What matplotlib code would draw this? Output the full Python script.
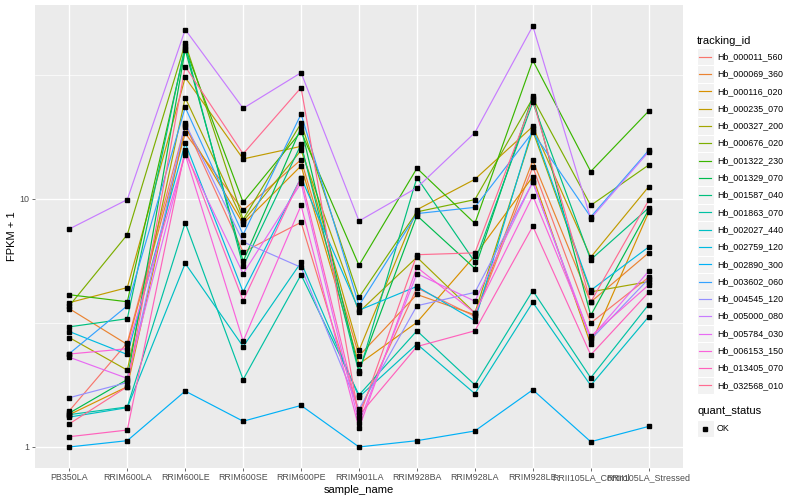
import numpy as np
import matplotlib.pyplot as plt
from matplotlib.patches import Rectangle
from matplotlib.ticker import NullFormatter

plt.rcParams['font.family'] = ['Liberation Sans', 'DejaVu Sans']

samples = ['PB350LA', 'RRIM600LA', 'RRIM600LE', 'RRIM600SE', 'RRIM600PE', 'RRIM901LA',
           'RRIM928BA', 'RRIM928LA', 'RRIM928LE', 'RRII105LA_Control', 'RRII105LA_Stressed']

tracking_ids = ['Hb_000011_560', 'Hb_000069_360', 'Hb_000116_020', 'Hb_000235_070',
                'Hb_000327_200', 'Hb_000676_020', 'Hb_001322_230', 'Hb_001329_070',
                'Hb_001587_040', 'Hb_001863_070', 'Hb_002027_440', 'Hb_002759_120',
                'Hb_002890_300', 'Hb_003602_060', 'Hb_004545_120', 'Hb_005000_080',
                'Hb_005784_030', 'Hb_006153_150', 'Hb_013405_070', 'Hb_032568_010']

# ggplot hue palette, 20 levels
colors = ['#F8766D', '#EA8331', '#D89000', '#C09B00', '#A3A500', '#7CAE00', '#39B600',
          '#00BB4E', '#00BF7D', '#00C1A3', '#00BFC4', '#00BAE0', '#00B0F6', '#35A2FF',
          '#9590FF', '#C77CFF', '#E76BF3', '#FA62DB', '#FF62BC', '#FF6C91']

# FPKM + 1, one list per gene, in sample order
hb_000011_560 = [1.40, 2.63, 19.9, 6.11, 8.05, 1.38, 4.38, 3.36, 13.46, 3.16, 4.83]
hb_000069_360 = [3.61, 2.59, 18.4, 9.0, 14.4, 2.33, 4.12, 3.41, 14.3, 3.84, 6.06]
hb_000116_020 = [1.35, 1.75, 19.5, 7.95, 13.6, 2.16, 3.18, 5.91, 12.3, 2.59, 8.83]
hb_000235_070 = [3.82, 4.39, 30.9, 14.5, 16.3, 2.45, 9.05, 12.0, 19.6, 5.82, 11.2]
hb_000327_200 = [2.76, 2.04, 25.6, 8.12, 15.7, 3.50, 5.82, 3.47, 18.8, 4.22, 4.64]
hb_000676_020 = [3.71, 7.18, 42.4, 8.26, 20.2, 4.01, 8.87, 9.94, 25.5, 9.42, 13.7]
hb_001322_230 = [4.11, 3.85, 40.6, 9.69, 18.7, 5.40, 13.3, 7.97, 36.2, 12.9, 22.6]
hb_001329_070 = [1.37, 1.87, 40.0, 5.60, 19.4, 2.03, 8.57, 5.24, 25.9, 3.39, 9.05]
hb_001587_040 = [3.05, 3.29, 41.5, 5.35, 16.6, 1.99, 12.2, 5.57, 24.5, 5.69, 9.20]
hb_001863_070 = [1.35, 1.45, 8.02, 1.87, 4.95, 1.62, 2.94, 1.78, 4.27, 1.90, 3.75]
hb_002027_440 = [1.32, 1.44, 5.50, 2.54, 5.55, 1.59, 2.60, 1.64, 3.83, 1.77, 3.35]
hb_002759_120 = [2.92, 2.36, 16.8, 4.22, 12.2, 3.56, 4.44, 3.23, 19.3, 4.28, 6.40]
hb_002890_300 = [1.00, 1.06, 1.68, 1.27, 1.47, 1.00, 1.06, 1.16, 1.70, 1.05, 1.21]
hb_003602_060 = [2.38, 3.71, 23.4, 7.18, 22.0, 3.72, 8.73, 9.25, 18.6, 8.46, 15.7]
hb_004545_120 = [1.58, 1.82, 20.2, 6.71, 5.30, 1.42, 3.71, 4.20, 11.7, 2.71, 4.76]
hb_005000_080 = [7.57, 9.94, 48.2, 23.2, 32.3, 8.15, 11.1, 18.5, 49.8, 8.33, 15.5]
hb_005784_030 = [2.30, 1.89, 15.3, 5.00, 11.6, 1.25, 5.00, 3.87, 11.7, 2.75, 5.11]
hb_006153_150 = [2.37, 2.49, 15.1, 2.67, 9.42, 1.19, 5.30, 3.47, 10.3, 2.79, 4.50]
hb_013405_070 = [1.10, 1.17, 15.8, 3.89, 12.2, 1.34, 2.54, 2.94, 7.76, 2.35, 4.20]
hb_032568_010 = [1.24, 1.75, 34.2, 15.2, 28.1, 1.31, 5.96, 6.06, 25.1, 3.84, 9.87]

series = [hb_000011_560, hb_000069_360, hb_000116_020, hb_000235_070, hb_000327_200,
          hb_000676_020, hb_001322_230, hb_001329_070, hb_001587_040, hb_001863_070,
          hb_002027_440, hb_002759_120, hb_002890_300, hb_003602_060, hb_004545_120,
          hb_005000_080, hb_005784_030, hb_006153_150, hb_013405_070, hb_032568_010]

W, H = 800, 500
fig = plt.figure(figsize=(W / 100, H / 100), dpi=100)
ax = fig.add_axes([34.6 / W, 32 / H, 648.8 / W, 463 / H])
ax.set_facecolor('#EBEBEB')
for sp in ax.spines.values():
    sp.set_visible(False)

x = np.arange(len(samples))
for vals, col in zip(series, colors):
    ax.plot(x, vals, color=col, lw=0.85, zorder=3)
for vals in series:
    ax.plot(x, vals, ls='none', marker='s', ms=2.2, color='black', zorder=4)

ax.set_yscale('log')
allv = np.log10(np.concatenate(series))
lo, hi = allv.min(), allv.max()
pad = 0.05 * (hi - lo)
ax.set_ylim(10 ** (lo - pad), 10 ** (hi + pad))
ax.set_xlim(-0.6, len(samples) - 0.4)

ax.set_yticks([1, 10])
ax.set_yticklabels(['1', '10'])
ax.set_yticks([10 ** 0.5, 10 ** 1.5], minor=True)
ax.yaxis.set_minor_formatter(NullFormatter())
ax.set_xticks(x)
ax.set_xticklabels(samples)

ax.grid(which='major', color='white', lw=1.0)
ax.grid(which='minor', axis='y', color='white', lw=0.5)
ax.set_axisbelow(True)
ax.tick_params(which='major', length=2, width=0.5, color='#333333',
               labelsize=6.4, labelcolor='#4D4D4D', pad=1.6)
ax.tick_params(which='minor', length=0)
ax.set_xlabel('sample_name', fontsize=8, color='black', labelpad=2)
ax.set_ylabel('FPKM + 1', fontsize=8, color='black', labelpad=2)

# legend, drawn in pixel coordinates
lax = fig.add_axes([0, 0, 1, 1], facecolor='none')
lax.set_xlim(0, W)
lax.set_ylim(H, 0)
lax.axis('off')
lax.text(697, 40.5, 'tracking_id', fontsize=8, va='center', ha='left')
step = 17.3
for i, (tid, col) in enumerate(zip(tracking_ids, colors)):
    yc = 56.7 + step * i
    lax.add_patch(Rectangle((697, yc - step / 2), 16.5, step, facecolor='#F2F2F2',
                            edgecolor='white', lw=0.8))
    lax.plot([698.7, 711.3], [yc, yc], color=col, lw=0.85)
    lax.text(717, yc, tid, fontsize=6.4, va='center', ha='left')

lax.text(697, 411.5, 'quant_status', fontsize=8, va='center', ha='left')
lax.add_patch(Rectangle((697, 428.5 - step / 2), 16.5, step, facecolor='#F2F2F2',
                        edgecolor='white', lw=0.8))
lax.plot([705.2], [428.5], ls='none', marker='s', ms=2.2, color='black')
lax.text(717, 428.5, 'OK', fontsize=6.4, va='center', ha='left')

fig.savefig('out.png', dpi=100)
